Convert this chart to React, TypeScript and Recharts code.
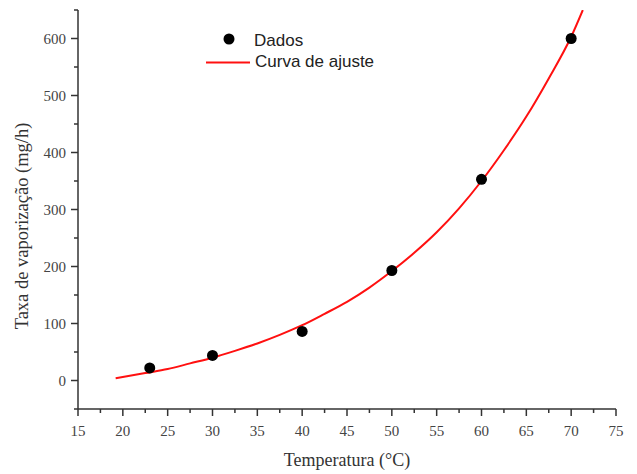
import React from "react";
import { ComposedChart, XAxis, YAxis, Scatter, Line } from "recharts";

const dataTemps = [23, 30, 40, 50, 60, 70];
const dataRates = [22, 44, 86, 193, 353, 600];

const fitTemps = [19.2, 22.5, 25, 27.5, 30, 32.5, 35, 37.5, 40, 42.5, 45, 47.5, 50, 52.5, 55, 57.5, 60, 62.5, 65, 67.5, 70, 71.3];
const fitRates = [4, 13, 20, 30, 40, 52, 65, 80, 97, 117, 138, 163, 192, 224, 260, 302, 350, 404, 463, 530, 603, 650];

const xTicks = [15, 17.5, 20, 22.5, 25, 27.5, 30, 32.5, 35, 37.5, 40, 42.5, 45, 47.5, 50, 52.5, 55, 57.5, 60, 62.5, 65, 67.5, 70, 72.5, 75];
const yTicks = [-50, 0, 50, 100, 150, 200, 250, 300, 350, 400, 450, 500, 550, 600, 650];

const points = dataTemps.map((x, i) => ({ x, y: dataRates[i] }));
const fit = fitTemps.map((x, i) => ({ x, y: fitRates[i] }));

const serif = "'Liberation Serif', 'Times New Roman', serif";
const sans = "'Liberation Sans', Arial, sans-serif";
const axisColor = "#333";
const labelColor = "#444";

const XTick = (props: any) => {
  const { x, y, payload } = props;
  const v = payload.value;
  const major = Math.abs(v % 5) < 1e-6;
  return (
    <g>
      <line x1={x} x2={x} y1={y} y2={y + (major ? 7 : 4)} stroke={axisColor} strokeWidth={1.5} />
      {major && (
        <text x={x} y={y + 27} textAnchor="middle" style={{ fontFamily: serif, fontSize: 15 }} fill={labelColor}>
          {v}
        </text>
      )}
    </g>
  );
};

const YTick = (props: any) => {
  const { x, y, payload } = props;
  const v = payload.value;
  const major = Math.abs(v % 100) < 1e-6 && v >= 0 && v <= 600;
  return (
    <g>
      <line x1={x - (major ? 7 : 4)} x2={x} y1={y} y2={y} stroke={axisColor} strokeWidth={1.5} />
      {major && (
        <text x={x - 12} y={y + 5} textAnchor="end" style={{ fontFamily: serif, fontSize: 15 }} fill={labelColor}>
          {v}
        </text>
      )}
    </g>
  );
};

const Dot = (props: any) => <circle cx={props.cx} cy={props.cy} r={5.5} fill="#000" />;

export default function App() {
  return (
    <div style={{ position: "absolute", left: 0, top: 0, width: 637, height: 474, background: "#fff" }}>
      <ComposedChart width={637} height={474} margin={{ top: 10, right: 21, left: 0, bottom: 0 }}>
        <XAxis
          type="number"
          dataKey="x"
          domain={[15, 75]}
          ticks={xTicks}
          interval={0}
          tickSize={0}
          tickMargin={0}
          tickLine={false}
          tick={<XTick />}
          height={65}
          axisLine={{ stroke: axisColor, strokeWidth: 1.5 }}
          allowDataOverflow
        />
        <YAxis
          type="number"
          dataKey="y"
          domain={[-50, 650]}
          ticks={yTicks}
          interval={0}
          tickSize={0}
          tickMargin={0}
          tickLine={false}
          tick={<YTick />}
          width={78}
          axisLine={{ stroke: axisColor, strokeWidth: 1.5 }}
          allowDataOverflow
        />
        <Line
          data={fit}
          dataKey="y"
          type="monotone"
          stroke="#ff1010"
          strokeWidth={2}
          dot={false}
          activeDot={false}
          isAnimationActive={false}
        />
        <Scatter data={points} dataKey="y" fill="#000" shape={<Dot />} isAnimationActive={false} />
      </ComposedChart>
      <svg width={637} height={474} style={{ position: "absolute", left: 0, top: 0, pointerEvents: "none" }}>
        <circle cx={229} cy={39} r={5.5} fill="#000" />
        <text x={254} y={46} style={{ fontFamily: sans, fontSize: 17 }} fill="#222">Dados</text>
        <line x1={206} x2={250} y1={62.5} y2={62.5} stroke="#ff1010" strokeWidth={2} />
        <text x={255} y={67} style={{ fontFamily: sans, fontSize: 17 }} fill="#222">Curva de ajuste</text>
        <text x={347} y={466} textAnchor="middle" style={{ fontFamily: serif, fontSize: 18 }} fill="#333">
          Temperatura (°C)
        </text>
        <text
          x={0}
          y={0}
          transform="translate(28, 226) rotate(-90)"
          textAnchor="middle"
          style={{ fontFamily: serif, fontSize: 18.5 }}
          fill="#333"
        >
          Taxa de vaporização (mg/h)
        </text>
      </svg>
    </div>
  );
}
